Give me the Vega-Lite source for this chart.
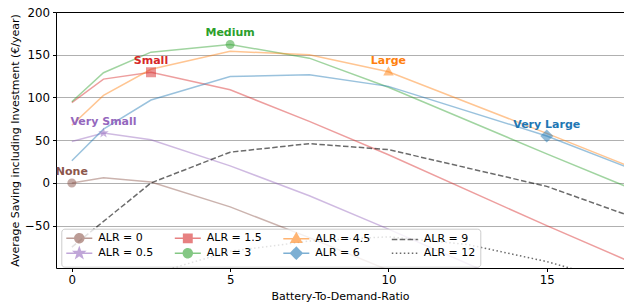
{
  "$schema": "https://vega.github.io/schema/vega-lite/v6.json",
  "width": 568,
  "height": 256,
  "autosize": {"type": "none"},
  "padding": {"left": 56, "top": 12, "right": 0, "bottom": 37},
  "config": {
    "font": "DejaVu Sans",
    "view": {"stroke": null},
    "axis": {
      "labelFont": "DejaVu Sans", "titleFont": "DejaVu Sans",
      "labelFontSize": 11.8, "titleFontSize": 11, "titleFontWeight": "normal",
      "labelColor": "#000", "titleColor": "#000", "tickColor": "#000", "domainColor": "#000",
      "tickSize": 3.5, "tickWidth": 1, "domainWidth": 1, "labelPadding": 3
    }
  },
  "datasets": {
    "lines": [
      {"ALR": "0", "x": 0, "y": 0}, {"ALR": "0", "x": 1, "y": 6}, {"ALR": "0", "x": 2.5, "y": 1}, {"ALR": "0", "x": 5, "y": -28}, {"ALR": "0", "x": 7.5, "y": -64}, {"ALR": "0", "x": 10, "y": -102}, {"ALR": "0", "x": 15, "y": -175}, {"ALR": "0", "x": 17.5, "y": -212},
      {"ALR": "0.5", "x": 0, "y": 48.5}, {"ALR": "0.5", "x": 1, "y": 58.5}, {"ALR": "0.5", "x": 2.5, "y": 50.5}, {"ALR": "0.5", "x": 5, "y": 20}, {"ALR": "0.5", "x": 7.5, "y": -15}, {"ALR": "0.5", "x": 10, "y": -54}, {"ALR": "0.5", "x": 15, "y": -135}, {"ALR": "0.5", "x": 17.5, "y": -175},
      {"ALR": "1.5", "x": 0, "y": 94}, {"ALR": "1.5", "x": 1, "y": 121.5}, {"ALR": "1.5", "x": 2.5, "y": 129.5}, {"ALR": "1.5", "x": 5, "y": 109}, {"ALR": "1.5", "x": 7.5, "y": 72}, {"ALR": "1.5", "x": 10, "y": 33}, {"ALR": "1.5", "x": 15, "y": -50}, {"ALR": "1.5", "x": 17.5, "y": -90},
      {"ALR": "3", "x": 0, "y": 95}, {"ALR": "3", "x": 1, "y": 129}, {"ALR": "3", "x": 2.5, "y": 153}, {"ALR": "3", "x": 5, "y": 162}, {"ALR": "3", "x": 7.5, "y": 146}, {"ALR": "3", "x": 10, "y": 112}, {"ALR": "3", "x": 15, "y": 34}, {"ALR": "3", "x": 17.5, "y": -4},
      {"ALR": "4.5", "x": 0, "y": 67.5}, {"ALR": "4.5", "x": 1, "y": 102.5}, {"ALR": "4.5", "x": 2.5, "y": 133}, {"ALR": "4.5", "x": 5, "y": 154}, {"ALR": "4.5", "x": 7.5, "y": 150}, {"ALR": "4.5", "x": 10, "y": 130}, {"ALR": "4.5", "x": 15, "y": 58}, {"ALR": "4.5", "x": 17.5, "y": 21},
      {"ALR": "6", "x": 0, "y": 26}, {"ALR": "6", "x": 1, "y": 63}, {"ALR": "6", "x": 2.5, "y": 97}, {"ALR": "6", "x": 5, "y": 124.5}, {"ALR": "6", "x": 7.5, "y": 126.5}, {"ALR": "6", "x": 10, "y": 113}, {"ALR": "6", "x": 15, "y": 55}, {"ALR": "6", "x": 17.5, "y": 19},
      {"ALR": "9", "x": 0, "y": -75}, {"ALR": "9", "x": 1, "y": -45}, {"ALR": "9", "x": 2.5, "y": 0}, {"ALR": "9", "x": 5, "y": 36}, {"ALR": "9", "x": 7.5, "y": 46}, {"ALR": "9", "x": 10, "y": 39}, {"ALR": "9", "x": 15, "y": -4}, {"ALR": "9", "x": 17.5, "y": -37},
      {"ALR": "12", "x": 0, "y": -165}, {"ALR": "12", "x": 1, "y": -140}, {"ALR": "12", "x": 2.5, "y": -107}, {"ALR": "12", "x": 5, "y": -80}, {"ALR": "12", "x": 7.5, "y": -68}, {"ALR": "12", "x": 10, "y": -63}, {"ALR": "12", "x": 12.5, "y": -72}, {"ALR": "12", "x": 15, "y": -92}, {"ALR": "12", "x": 17.5, "y": -118}
    ],
    "markers": [
      {"ALR": "0", "x": 0, "y": 0, "marker": "circle", "label": "None"},
      {"ALR": "0.5", "x": 1, "y": 58.5, "marker": "star", "label": "Very Small"},
      {"ALR": "1.5", "x": 2.5, "y": 129.5, "marker": "square", "label": "Small"},
      {"ALR": "3", "x": 5, "y": 162, "marker": "circle", "label": "Medium"},
      {"ALR": "4.5", "x": 10, "y": 130, "marker": "triangle", "label": "Large"},
      {"ALR": "6", "x": 15, "y": 55, "marker": "diamond", "label": "Very Large"}
    ]
  },
  "resolve": {"axis": {"x": "independent"}},
  "layer": [
    {
      "data": {"name": "lines"},
      "transform": [{"filter": "datum.ALR != '9' && datum.ALR != '12'"}],
      "mark": {"type": "line", "clip": true, "strokeWidth": 1.5, "opacity": 0.45},
      "encoding": {
        "x": {"field": "x", "type": "quantitative", "scale": {"domain": [-0.5, 17.44], "nice": false, "zero": false},
              "axis": {"orient": "bottom", "values": [0, 5, 10, 15], "grid": false, "title": "Battery-To-Demand-Ratio", "titlePadding": 4}},
        "y": {"field": "y", "type": "quantitative", "scale": {"domain": [-99.5, 200], "nice": false, "zero": false},
              "axis": {"values": [-50, 0, 50, 100, 150, 200], "grid": true, "gridColor": "#b0b0b0", "gridWidth": 1, "title": "Average Saving including Investment (€/year)", "titlePadding": 4}},
        "color": {"field": "ALR", "type": "nominal",
          "scale": {"domain": ["0", "1.5", "4.5", "9", "0.5", "3", "6", "12"], "range": ["#8c564b", "#d62728", "#ff7f0e", "#000000", "#9467bd", "#2ca02c", "#1f77b4", "#000000"]},
          "legend": {
            "orient": "none", "legendX": 5.3, "legendY": 216.7, "columns": 4, "direction": "horizontal", "title": null,
            "fillColor": "rgba(255,255,255,0.8)", "strokeColor": "#cccccc", "cornerRadius": 3, "padding": 4,
            "rowPadding": -2, "columnPadding": 18.5, "symbolSize": 64, "symbolStrokeWidth": 1.5, "symbolOffset": 8.5, "labelOffset": 13.5,
            "labelFontSize": 11, "labelFont": "DejaVu Sans", "labelColor": "#000",
            "labelExpr": "'ALR = ' + datum.label",
            "symbolType": {"expr": "datum.value === '0' || datum.value === '3' ? 'M-3.25,0H3.25M-1.12,0A1.12,1.12,0,1,1,1.12,0A1.12,1.12,0,1,1,-1.12,0Z' : datum.value === '0.5' ? 'M-3.25,0H3.25M0,-1.36L0.32,-0.44L1.293,-0.421L0.517,0.168L0.8,1.1L0,0.544L-0.8,1.1L-0.517,0.168L-1.293,-0.421L-0.32,-0.44Z' : datum.value === '1.5' ? 'M-3.25,0H3.25M-1.05,-1.05H1.05V1.05H-1.05Z' : datum.value === '4.5' ? 'M-3.25,0H3.25M0,-1.36L1.28,0.88L-1.28,0.88Z' : datum.value === '6' ? 'M-3.25,0H3.25M0,-1.45L1.45,0L0,1.45L-1.45,0Z' : 'M-3.25,0H3.25'"},
            "symbolDash": {"expr": "datum.value === '9' ? [5.5, 2.4] : datum.value === '12' ? [1.5, 2.5] : [1, 0]"},
            "symbolOpacity": {"expr": "datum.value === '9' || datum.value === '12' ? 0.58 : 0.38"}
          }
        }
      }
    },
    {
      "data": {"name": "lines"},
      "transform": [{"filter": "datum.ALR == '9' || datum.ALR == '12'"}],
      "mark": {"type": "line", "clip": true, "strokeWidth": 1.5, "opacity": 0.58},
      "encoding": {
        "x": {"field": "x", "type": "quantitative", "axis": null},
        "y": {"field": "y", "type": "quantitative"},
        "color": {"field": "ALR", "type": "nominal"},
        "strokeDash": {"field": "ALR", "type": "nominal", "scale": {"domain": ["9", "12"], "range": [[5.5, 2.4], [1.5, 2.5]]}, "legend": null}
      }
    },
    {
      "data": {"name": "markers"},
      "mark": {"type": "point", "filled": true, "opacity": 0.5, "size": 100, "clip": true},
      "encoding": {
        "x": {"field": "x", "type": "quantitative", "axis": null},
        "y": {"field": "y", "type": "quantitative"},
        "color": {"field": "ALR", "type": "nominal"},
        "shape": {"field": "marker", "type": "nominal", "legend": null,
          "scale": {"domain": ["circle", "star", "square", "triangle", "diamond"],
                    "range": ["M-0.9,0A0.9,0.9,0,1,1,0.9,0A0.9,0.9,0,1,1,-0.9,0Z", "M0,-1.1L0.259,-0.356L1.046,-0.34L0.418,0.136L0.647,0.89L0,0.44L-0.647,0.89L-0.418,0.136L-1.046,-0.34L-0.259,-0.356Z", "M-1,-1H1V1H-1Z", "M0,-1.1L1.05,0.75L-1.05,0.75Z", "M0,-1.3L1.3,0L0,1.3L-1.3,0Z"]}}
      }
    },
    {
      "data": {"name": "markers"},
      "mark": {"type": "text", "fontWeight": "bold", "fontSize": 11, "font": "DejaVu Sans", "dy": -11, "baseline": "middle", "align": "center"},
      "encoding": {
        "x": {"field": "x", "type": "quantitative", "axis": {"orient": "top", "labels": false, "ticks": false, "grid": false, "title": null, "domain": true}},
        "y": {"field": "y", "type": "quantitative"},
        "text": {"field": "label"},
        "color": {"field": "ALR", "type": "nominal"}
      }
    }
  ]
}
